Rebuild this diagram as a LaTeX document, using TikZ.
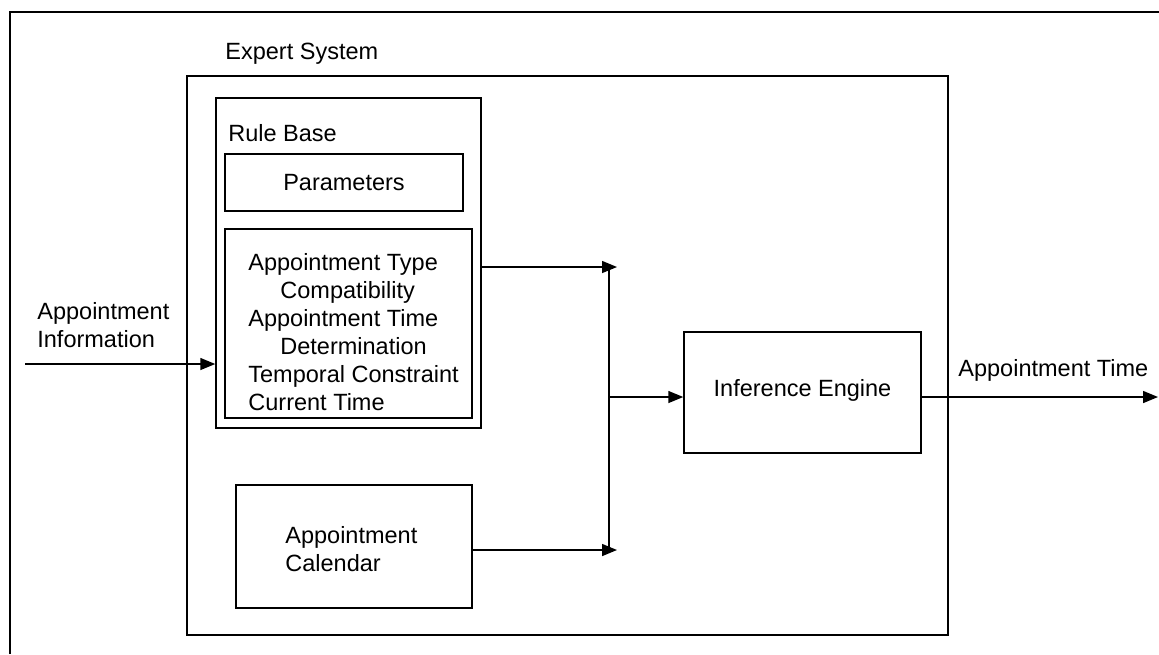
\documentclass[tikz,border=0pt]{standalone}
\usepackage{fontspec}
\setmainfont{Liberation Sans}
\usetikzlibrary{arrows.meta,fit}

\begin{document}
\begin{tikzpicture}[x=0.5pt,y=-0.5pt,font=\fontsize{11.75}{14}\selectfont,
  box/.style={draw=black,line width=0.75pt,inner sep=0pt},
  flow/.style={draw=black,line width=0.75pt,-{Triangle[length=7.5pt,width=6pt]}},
  lbl/.style={anchor=west,inner sep=0pt,align=left}]
\useasboundingbox (0,0) rectangle (1159,654);
% outer frame, only top and left edge show
\coordinate (frame-bl) at (10,654);
\coordinate (frame-tl) at (10,12);
\coordinate (frame-tr) at (1159,12);
\draw[line width=1pt] (frame-bl) -- (frame-tl) -- (frame-tr);
% expert system
\node[box,line width=1pt,fit={(187,76) (948,635)}] (expert) {};
\node[lbl] (expert-label) at (225,54) {Expert System};
\node[box,fit={(216,98) (481,428)}] (rulebase) {};
\node[lbl] (rulebase-label) at (228,133) {Rule Base};
\node[box,fit={(225,154) (463,211)}] (params) {};
\node[inner sep=0pt] (params-text) at (params.center) {Parameters};
\node[box,fit={(225,229) (472,418)}] (rules) {};
\node[lbl] (rules-text) at (248,332) {Appointment Type\\\hspace*{16pt}Compatibility\\Appointment Time\\\hspace*{16pt}Determination\\Temporal Constraint\\Current Time};
\node[box,fit={(236,485) (472,608)}] (calendar) {};
\node[lbl] (calendar-text) at (285,549) {Appointment\\Calendar};
\node[box,fit={(684,332) (921,453)}] (inference) {};
\node[inner sep=0pt] (inference-text) at ([yshift=1pt]inference.center) {Inference Engine};
% input
\coordinate (input) at (25,364);
\node[lbl] (input-label) at (37,325) {Appointment\\Information};
\draw[flow] (input) -- (input -| rulebase.west);
% collecting line
\coordinate (join-top) at (609,267);
\coordinate (join-mid) at (609,397);
\coordinate (join-bot) at (609,550);
\coordinate (tip-top) at (617,267);
\coordinate (tip-bot) at (617,550);
\draw[line width=0.75pt] (join-top) -- (join-bot);
\draw[flow] (rulebase.east |- tip-top) -- (tip-top);
\draw[flow] (calendar.east |- tip-bot) -- (tip-bot);
\draw[flow] (join-mid) -- (join-mid -| inference.west);
% output
\coordinate (output) at (1158,397);
\draw[flow] (output -| inference.east) -- (output);
\node[lbl] (output-label) at (958,370) {Appointment Time};
\end{tikzpicture}
\end{document}
